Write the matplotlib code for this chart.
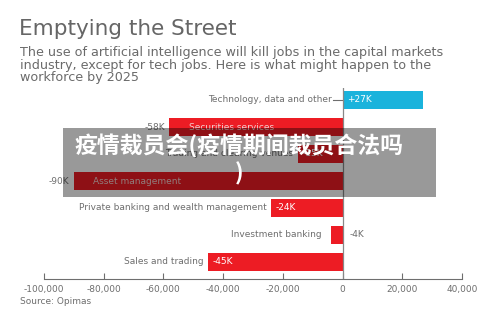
import matplotlib
matplotlib.use("Agg")
import matplotlib.pyplot as plt
from matplotlib.patches import Rectangle
from matplotlib.ticker import FuncFormatter

plt.rcParams['font.family'] = ['DejaVu Sans', 'Noto Sans CJK SC']

# data
categories = ["Technology, data and other", "Securities services",
              "Trading and clearing venues", "Asset management",
              "Private banking and wealth management", "Investment banking",
              "Sales and trading"]
changes = [27000, -58000, -15000, -90000, -24000, -4000, -45000]
value_labels = ["+27K", "-58K", "-15K", "-90K", "-24K", "-4K", "-45K"]
name_inside = [False, True, False, True, False, False, False]
xticks = [-100000, -80000, -60000, -40000, -20000, 0, 20000, 40000]

red = "#ed1c24"
cyan = "#1ab3dc"
gray = "#6e6e6e"

W, H = 500, 325
fig = plt.figure(figsize=(5, 3.25), dpi=100)
fig.patch.set_facecolor("white")

def fx(px):
    return px / W

def fy(py):
    return 1 - py / H

ax = fig.add_axes([fx(44), fy(279), fx(462) - fx(44), fy(88) - fy(279)])
ax.set_xlim(-100000, 40000)
ax.set_ylim((279 - 100) / 27, -(100 - 88) / 27)

ypos = list(range(len(categories)))
colors = [cyan if v > 0 else red for v in changes]
ax.barh(ypos, changes, height=0.7, color=colors)

for y, cat, v, lab, inside in zip(ypos, categories, changes, value_labels, name_inside):
    if v > 0:
        ax.text(1500, y, lab, color="white", fontsize=6.5, va="center", ha="left")
        ax.text(-3500, y, cat, color=gray, fontsize=6.5, va="center", ha="right")
        ax.plot([-3200, 0], [y, y], color=gray, lw=0.8)
    elif inside:
        ax.text(v - 1500, y, lab, color=gray, fontsize=6.5, va="center", ha="right")
        ax.text(v + 6500, y, cat, color="#f3d0d0", fontsize=6.5, va="center", ha="left")
    elif v > -10000:
        ax.text(2500, y, lab, color=gray, fontsize=6.5, va="center", ha="left")
        ax.text(v - 3000, y, cat, color=gray, fontsize=6.5, va="center", ha="right")
    else:
        ax.text(v + 1500, y, lab, color="white", fontsize=6.5, va="center", ha="left")
        ax.text(v - 1500, y, cat, color=gray, fontsize=6.5, va="center", ha="right")

ax.axvline(0, color="#888888", lw=0.9)
for s in ["top", "right", "left"]:
    ax.spines[s].set_visible(False)
ax.spines["bottom"].set_color(gray)
ax.set_yticks([])
ax.set_xticks(xticks)
ax.xaxis.set_major_formatter(FuncFormatter(lambda v, p: f"{int(v):,}"))
ax.tick_params(axis="x", direction="in", length=4, colors=gray, labelsize=6.5, pad=4)

fig.text(fx(19), fy(29), "Emptying the Street", fontsize=15.5, color="#666666", va="center", ha="left")
fig.text(fx(20), fy(65),
         "The use of artificial intelligence will kill jobs in the capital markets\n"
         "industry, except for tech jobs. Here is what might happen to the\n"
         "workforce by 2025",
         fontsize=9.2, color="#6a6a6a", va="center", ha="left", linespacing=0.98)
fig.text(fx(20), fy(301), "Source: Opimas", fontsize=6.5, color=gray, va="center", ha="left")

# overlay banner
fig.patches.append(Rectangle((fx(63), fy(197)), fx(436) - fx(63), fy(128) - fy(197),
                             transform=fig.transFigure, facecolor="black", alpha=0.4,
                             edgecolor="none", zorder=5))
fig.text(fx(239), fy(160), "疫情裁员会(疫情期间裁员合法吗\n)", fontsize=16.5, fontweight="bold",
         color="white", ha="center", va="center", linespacing=1.2, zorder=6,
         family=["Noto Sans CJK SC", "DejaVu Sans"])

fig.savefig("out.png", dpi=100)
